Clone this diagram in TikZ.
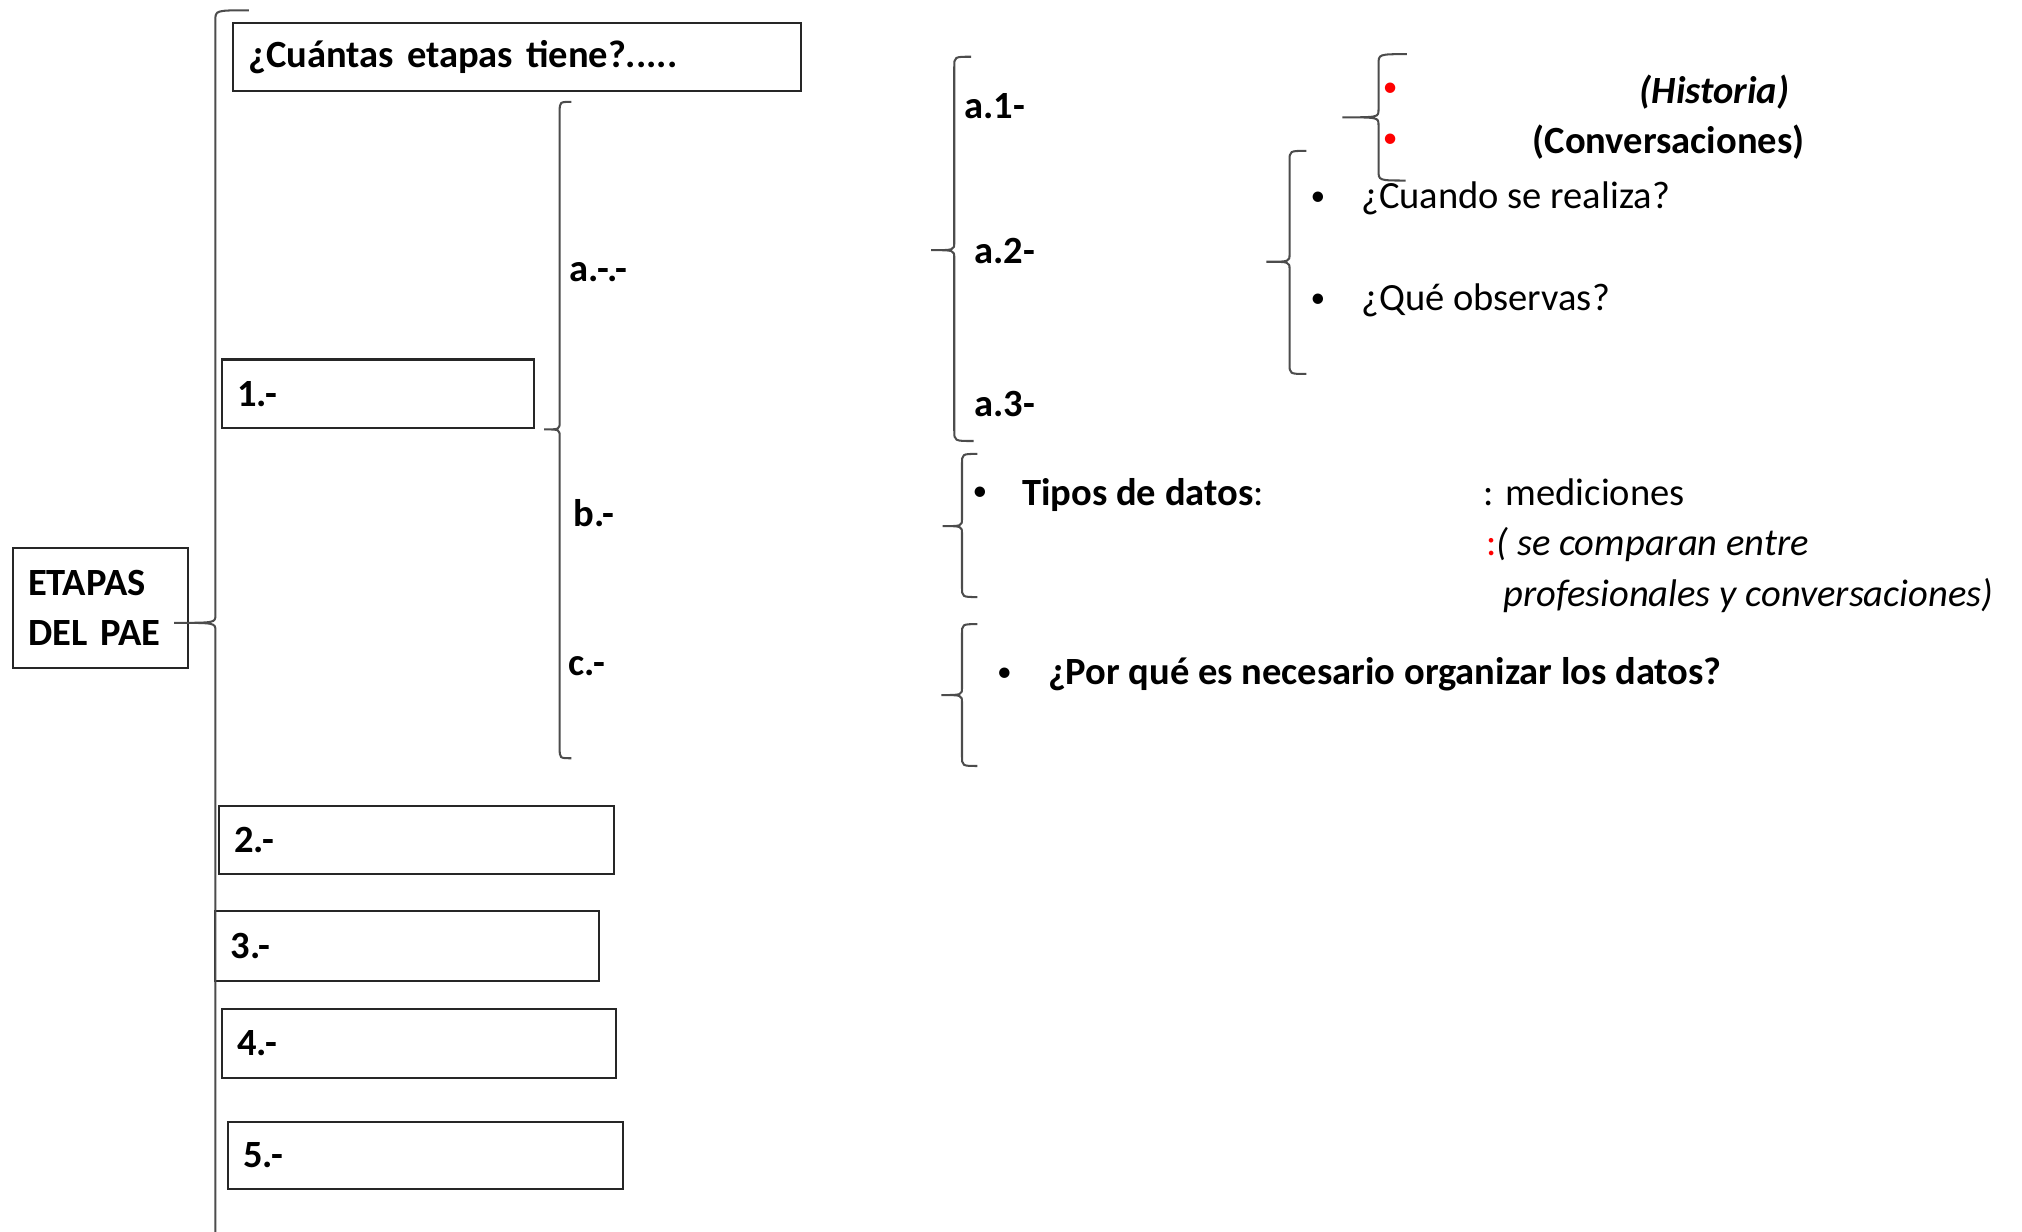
\documentclass[tikz,border=0pt]{standalone}
\usepackage{fontspec}
\setmainfont{Carlito}
\usetikzlibrary{calc}
\newcommand{\fs}{\fontsize{8.5pt}{11.1pt}\selectfont}
\tikzset{
  brace/.style={draw=black!70, line width=0.45pt},
  box/.style={draw=black!85, line width=0.45pt, anchor=north west, inner xsep=1.2mm, inner ysep=0pt, align=left, font=\fs\bfseries},
  lbl/.style={anchor=base west, inner sep=0pt, font=\fs\bfseries},
  txt/.style={anchor=base west, inner sep=0pt, font=\fs},
  bul/.style={anchor=center, inner sep=0pt, font=\fontsize{6.5pt}{7pt}\selectfont},
}
% #1 x, #2 top y, #3 tip y, #4 bottom y, #5 top hook x, #6 bottom hook x, #7 tip x
\newcommand{\brc}[7]{%
  \draw[brace] (#5,#2) .. controls (#1,#2) .. (#1,{#2+8}) -- (#1,{#3-6})
    .. controls (#1,#3) .. (#7,#3) .. controls (#1,#3) .. (#1,{#3+6})
    -- (#1,{#4-8}) .. controls (#1,#4) .. (#6,#4);}
\begin{document}
\begin{tikzpicture}[x=0.1mm, y=-0.1mm]
\useasboundingbox (0,0) rectangle (1568,955);

% boxes
\node[box, minimum width=13.6mm, minimum height=9.3mm, text width=11.2mm] (pae) at (9,424) {ETAPAS\\DEL PAE};
\node[box, minimum width=44mm, minimum height=5.3mm, text width=41.6mm] (q) at (180,17) {¿Cuántas etapas tiene?.....};
\node[box, minimum width=24.2mm, minimum height=5.3mm, text width=21.8mm] (s1) at (171,278) {1.-};
\node[box, minimum width=30.6mm, minimum height=5.3mm, text width=28.2mm] (s2) at (169,624) {2.-};
\node[box, minimum width=29.8mm, minimum height=5.4mm, text width=27.4mm] (s3) at (166,706) {3.-};
\node[box, minimum width=30.6mm, minimum height=5.3mm, text width=28.2mm] (s4) at (171,782) {4.-};
\node[box, minimum width=30.6mm, minimum height=5.2mm, text width=28.2mm] (s5) at (176,869) {5.-};

% main brace
\coordinate (mtip) at (135,483);
\draw[brace] (193,8) .. controls (167,8) .. (167,16) -- (167,477)
  .. controls (167,483) .. (mtip) .. controls (167,483) .. (167,489) -- (167,956);

% other braces
\brc{434}{79}{333}{588}{443}{443}{422}
\brc{740}{44}{194}{342}{753}{755}{722}
\brc{1069}{42}{91}{140}{1091}{1090}{1041}
\brc{1000}{117}{203}{290}{1013}{1013}{982}
\brc{746}{352}{408}{463}{758}{758}{731}
\brc{746}{484}{539}{594}{758}{758}{730}

% labels
\node[lbl] (la) at (441,218) {a.-.-};
\node[lbl] (lb) at (444,408) {b.-};
\node[lbl] (lc) at (440,524) {c.-};
\node[lbl] (la1) at (747,92) {a.1-};
\node[lbl] (la2) at (755,204) {a.2-};
\node[lbl] (la3) at (755,323) {a.3-};

% a.1 items
\node[bul, text=red] (r1) at (1078,70) {•};
\node[bul, text=red] (r2) at (1078,109) {•};
\node[lbl, anchor=base east, font=\fs\bfseries\itshape] (hist) at (1388,80) {(Historia)};
\node[lbl, anchor=base east] (conv) at (1400,119) {(Conversaciones)};

% a.2 items
\node[bul] (k1) at (1022,154) {•};
\node[bul] (k2) at (1022,233) {•};
\node[txt] (cuando) at (1055,162) {¿Cuando se realiza?};
\node[txt] (que) at (1055,241) {¿Qué observas?};

% b items
\node[bul] (k3) at (760,383) {•};
\node[txt] (tipos) at (792,392) {\textbf{Tipos de datos}:};
\node[txt] (med) at (1150,392) {: mediciones};
\node[txt] (comp) at (1152,431) {\textcolor{red}{:}\textit{( se comparan entre}};
\node[txt, font=\fs\itshape] (prof) at (1165,470) {profesionales y conversaciones)};

% c items
\node[bul] (k4) at (779,523) {•};
\node[lbl] (porque) at (812,531) {¿Por qué es necesario organizar los datos?};
\end{tikzpicture}
\end{document}
